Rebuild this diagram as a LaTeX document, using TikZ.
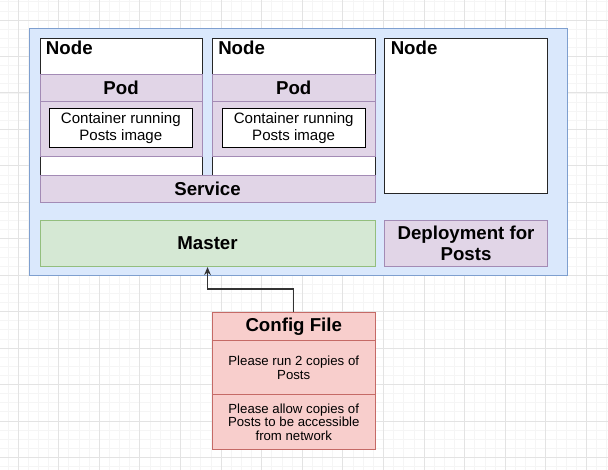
\documentclass[tikz,border=0pt]{standalone}
\usepackage{fontspec}
\setmainfont{Liberation Sans}
\usetikzlibrary{positioning,arrows.meta}

\definecolor{gridminor}{HTML}{F5F5F5}
\definecolor{gridmajor}{HTML}{E3E3E3}
\definecolor{clusterfill}{HTML}{DAE8FC}
\definecolor{clusterline}{HTML}{7E9FCF}
\definecolor{podfill}{HTML}{E1D5E7}
\definecolor{podline}{HTML}{A38BB5}
\definecolor{masterfill}{HTML}{D5E8D4}
\definecolor{masterline}{HTML}{93BE7E}
\definecolor{cfgfill}{HTML}{F8CECC}
\definecolor{cfgline}{HTML}{C56A66}

\newcommand{\bigbf}{\fontsize{14}{15.5}\selectfont\bfseries}

\begin{document}
\begin{tikzpicture}[x=0.75pt,y=-0.75pt,
  box/.style={anchor=north west, inner sep=0pt, line width=0.8pt},
  nodebox/.style={box, draw=black!85, fill=white},
  podbox/.style={box, draw=podline, fill=podfill, font=\bigbf},
  contbox/.style={box, draw=black, fill=white, align=center,
    font=\fontsize{11.3}{12.5}\selectfont},
  cfgbox/.style={box, draw=cfgline, fill=cfgfill, align=center,
    font=\fontsize{9.9}{10.3}\selectfont},
  nodetitle/.style={anchor=base west, inner sep=0pt, font=\bigbf}]
\useasboundingbox (0,0) rectangle (608,470);
\fill[white] (0,0) rectangle (608,470);

% background grid
\foreach \i in {0,...,60} \draw[gridminor, line width=0.5pt] (18+\i*10.15-10.15,0) -- ++(0,470);
\foreach \j in {0,...,53} \draw[gridminor, line width=0.5pt] (0,20+\j*9.11-18.22) -- ++(608,0);
\foreach \i in {0,...,15} \draw[gridmajor, line width=0.6pt] (18+\i*40.6,0) -- ++(0,470);
\foreach \j in {-1,...,12} \draw[gridmajor, line width=0.6pt] (0,20+\j*36.45) -- ++(608,0);

% cluster
\node[box, draw=clusterline, fill=clusterfill, minimum width={538*0.75pt}, minimum height={247*0.75pt}] (cluster) at (29,28) {};

% nodes
\node[nodebox, minimum width={162*0.75pt}, minimum height={137*0.75pt}] (node1) at (39.5,38) {};
\node[nodebox, minimum width={163*0.75pt}, minimum height={137*0.75pt}] (node2) at (211.7,38) {};
\node[nodebox, minimum width={163*0.75pt}, minimum height={155*0.75pt}] (node3) at (384,38) {};
\node[nodetitle] (node1t) at (45.7,54.3) {Node};
\node[nodetitle] (node2t) at (218,54.3) {Node};
\node[nodetitle] (node3t) at (390.5,54.3) {Node};

% pods
\node[podbox, minimum width={162*0.75pt}, minimum height={27*0.75pt}] (pod1) at (39.5,74) {Pod};
\node[podbox, minimum width={162*0.75pt}, minimum height={55*0.75pt}] (pod1b) at (39.5,101) {};
\node[contbox, minimum width={142.5*0.75pt}, minimum height={39*0.75pt}] (cont1) at (49,108) {Container running\\Posts image};
\node[podbox, minimum width={163*0.75pt}, minimum height={27*0.75pt}] (pod2) at (211.7,74) {Pod};
\node[podbox, minimum width={163*0.75pt}, minimum height={55*0.75pt}] (pod2b) at (211.7,101) {};
\node[contbox, minimum width={142.7*0.75pt}, minimum height={39*0.75pt}] (cont2) at (221.8,108) {Container running\\Posts image};

% service, master, deployment
\node[podbox, minimum width={335*0.75pt}, minimum height={27*0.75pt}] (service) at (39.5,175) {Service};
\node[box, draw=masterline, fill=masterfill, font=\bigbf, minimum width={335*0.75pt}, minimum height={46*0.75pt}] (master) at (39.5,220) {Master};
\node[podbox, align=center, minimum width={163*0.75pt}, minimum height={46*0.75pt}] (deploy) at (384,220) {Deployment for\\Posts};

% config file
\node[cfgbox, font=\bigbf, minimum width={163*0.75pt}, minimum height={28*0.75pt}] (cfg) at (211.7,312) {Config File};
\node[cfgbox, minimum width={163*0.75pt}, minimum height={54*0.75pt}] (cfg1) at (211.7,340) {Please run 2 copies of\\Posts};
\node[cfgbox, minimum width={163*0.75pt}, minimum height={55*0.75pt}] (cfg2) at (211.7,394) {Please allow copies of\\Posts to be accessible\\from network};

\draw[black!80, line width=0.8pt, -{Stealth[length=6pt,width=5pt]}] (cfg.north) -- ++(0,-23) -| (master.south);
\end{tikzpicture}
\end{document}
